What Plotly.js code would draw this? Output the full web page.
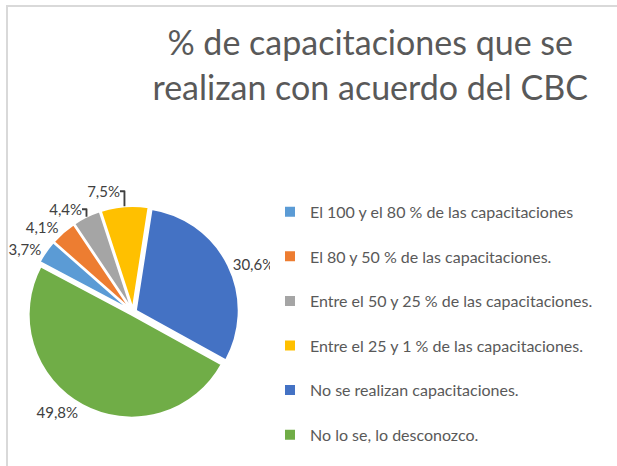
<!DOCTYPE html>
<html>
<head>
<meta charset="utf-8">
<script src="https://cdn.plot.ly/plotly-3.0.1.min.js"></script>
<style>
  body { margin: 0; background: #fff; }
  #chart { width: 617px; height: 466px; position: relative; }
  #frame { position: absolute; left: 6px; top: 5px; width: 700px; height: 600px;
           border: 2px solid #d9d9d9; pointer-events: none; }
</style>
</head>
<body>
<div id="chart"></div>
<div id="frame"></div>
<script>
// categories and shares (%)
var categories = [
  "El 100 y el 80 % de las capacitaciones",
  "El 80 y 50 % de las capacitaciones.",
  "Entre el 50 y 25 % de las capacitaciones.",
  "Entre el 25 y 1 % de las capacitaciones.",
  "No se realizan capacitaciones.",
  "No lo se, lo desconozco."
];
var shares = [3.7, 4.1, 4.4, 7.5, 30.6, 49.8];
var colors = ["#5B9BD5", "#ED7D31", "#A5A5A5", "#FFC000", "#4472C4", "#70AD47"];

// legend rows sit far apart, so each label (but the last) gets an empty second line
var legendLabels = categories.map((c, i) => i < categories.length - 1 ? c + "<br> " : c);

var trace = {
  type: "pie",
  labels: legendLabels,
  values: shares,
  sort: false,
  direction: "clockwise",
  rotation: 298,
  pull: 0.03,
  marker: {colors: colors, line: {color: "#ffffff", width: 2}},
  textposition: "outside",
  texttemplate: "%{value:.1f}%",
  textfont: {family: "Lato, sans-serif", size: 15, color: "#404040"},
  hoverinfo: "skip",
  domain: {x: [0.0438, 0.3874], y: [0.103, 0.558]}
};

var layout = {
  width: 617,
  height: 466,
  separators: ",.",
  margin: {l: 0, r: 0, t: 0, b: 0, autoexpand: false},
  paper_bgcolor: "#ffffff",
  font: {family: "Lato, sans-serif", color: "#595959"},
  title: {
    text: "% de capacitaciones que se<br>realizan con acuerdo del CBC",
    font: {family: "Lato, sans-serif", size: 34, color: "#595959"},
    x: 0.6, xanchor: "center",
    y: 0.881, yanchor: "top"
  },
  showlegend: true,
  legend: {
    x: 0.4376, xanchor: "left",
    y: 0.582, yanchor: "top",
    valign: "top",
    font: {family: "Lato, sans-serif", size: 16, color: "#595959"},
    itemwidth: 30
  }
};

Plotly.newPlot("chart", [trace], layout, {displayModeBar: false});
</script>
</body>
</html>
